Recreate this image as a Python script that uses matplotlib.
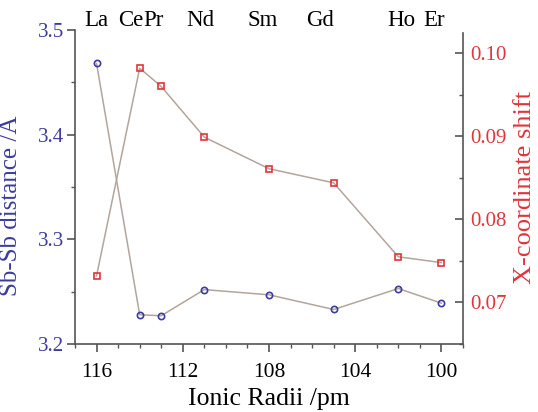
import matplotlib.pyplot as plt
from matplotlib.ticker import MultipleLocator

# ionic radii (pm) used as x positions
elements = ['La', 'Ce', 'Pr', 'Nd', 'Sm', 'Gd', 'Ho', 'Er']
radii = [116, 114, 113, 111, 108, 105, 102, 100]
sb_sb = [3.468, 3.228, 3.227, 3.252, 3.247, 3.233, 3.253, 3.239]
x_shift = [0.0732, 0.0982, 0.0960, 0.0899, 0.0861, 0.0844, 0.0755, 0.0748]

blue = '#3c3ca0'
red = '#e0353a'
line_col = '#b3a59c'

plt.rcParams['font.family'] = ['Liberation Serif', 'DejaVu Serif']

fig = plt.figure(figsize=(5.38, 4.12), dpi=100)
ax = fig.add_axes([0.1394, 0.165, 0.7212, 0.7622])
ax2 = ax.twinx()

ax.plot(radii, sb_sb, '-o', color=line_col, lw=1.1, ms=4.5,
        mfc='none', mec=blue, mew=1.2)
ax2.plot(radii, x_shift, '-s', color=line_col, lw=1.1, ms=4.5,
         mfc='none', mec=red, mew=1.2)

ax.set_xlim(117.0, 99.0)
ax.set_ylim(3.2, 3.5)
ax2.set_ylim(0.0650, 0.1028)

ax.xaxis.set_major_locator(MultipleLocator(4))
ax.xaxis.set_minor_locator(MultipleLocator(1))
ax.yaxis.set_major_locator(MultipleLocator(0.1))
ax.yaxis.set_minor_locator(MultipleLocator(0.05))
ax2.yaxis.set_major_locator(MultipleLocator(0.01))
ax2.yaxis.set_minor_locator(MultipleLocator(0.005))
ax.yaxis.set_major_formatter(plt.FormatStrFormatter('%.1f'))
ax2.yaxis.set_major_formatter(plt.FormatStrFormatter('%.2f'))

for a in (ax, ax2):
    a.spines['top'].set_visible(False)
    for s in a.spines.values():
        s.set_color('#555555')
        s.set_linewidth(1.2)
ax.spines['right'].set_visible(False)
ax2.spines['left'].set_visible(False)
ax2.spines['bottom'].set_visible(False)
ax2.spines['right'].set_bounds(0.0650, 0.1024)

ax.tick_params(axis='x', which='major', direction='out', length=6, width=1.2,
               color='#555555', labelsize=15.5, labelcolor='black', pad=8)
ax.tick_params(axis='x', which='minor', direction='out', length=3, width=1,
               color='#555555')
ax.tick_params(axis='y', which='major', direction='out', length=6, width=1.2,
               color='#555555', labelsize=15, labelcolor=blue, pad=2)
ax.tick_params(axis='y', which='minor', direction='out', length=3, width=1,
               color='#555555')
ax2.tick_params(axis='y', which='major', direction='in', length=6, width=1.2,
                color='#555555', labelsize=15, labelcolor=red, pad=5)
ax2.tick_params(axis='y', which='minor', direction='in', length=3, width=1,
                color='#555555')

ax.set_xlabel('Ionic Radii /pm', fontsize=18.5, labelpad=4)
ax.set_ylabel('Sb-Sb distance /Å', fontsize=18, color=blue)
ax.yaxis.set_label_coords(-0.137, 0.44)
ax2.set_ylabel('X-coordinate shift', fontsize=19, color=red)
ax2.yaxis.set_label_coords(1.131, 0.5)

# element names along the top
label_x = [116, 114.4, 113.35, 111.2, 108.3, 105.65, 101.85, 100.36]
for name, lx in zip(elements, label_x):
    ax.text(lx, 1.029, name, transform=ax.get_xaxis_transform(),
            ha='center', va='center', fontsize=16.5)

fig.savefig('out.png', dpi=100)
